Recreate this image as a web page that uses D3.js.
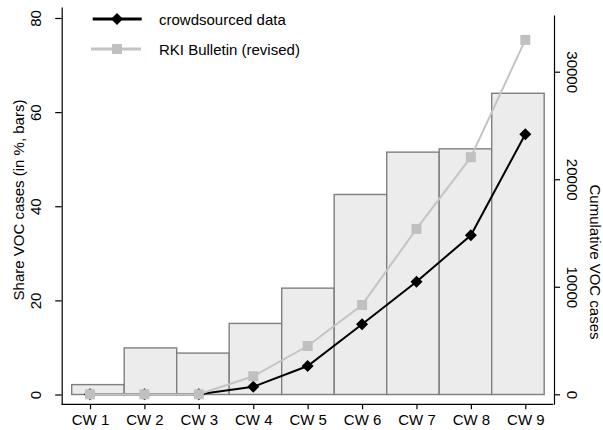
<!DOCTYPE html>
<html>
<head>
<meta charset="utf-8">
<script src="https://cdn.jsdelivr.net/npm/d3@7"></script>
<style>
  body { margin: 0; background: #fff; }
  svg { font-family: "Liberation Sans", Arial, sans-serif; }
</style>
</head>
<body>
<div id="chart"></div>
<script>
// data
var weeks = ["CW 1", "CW 2", "CW 3", "CW 4", "CW 5", "CW 6", "CW 7", "CW 8", "CW 9"];
var shareVOC = [2.1, 9.9, 8.8, 15.1, 22.6, 42.5, 51.5, 52.2, 64.0];
var crowdsourced = [0, 0, 0, 700, 2630, 6510, 10470, 14790, 24190];
var rkiBulletin = [0, 0, 0, 1680, 4490, 8310, 15380, 22050, 32960];
var leftTicks = [0, 20, 40, 60, 80];
var rightTicks = [0, 10000, 20000, 30000];

function main() {
    var width = 603, height = 430;

    var svg = d3.select("#chart").append("svg")
        .attr("width", width)
        .attr("height", height);

    // scales
    var xPoint = d3.scalePoint().domain(weeks).range([90, 525.3]);
    var xBar = d3.scaleBand().domain(weeks).range([71.7, 544.2]).padding(0);
    var yLeft = d3.scaleLinear().domain([0, 80]).range([394.5, 18]);
    var yRight = d3.scaleLinear().domain([0, 30000]).range([394.3, 71.7]);

    var axisY = 404.3, leftX = 61.7, rightX = 554;

    // bars
    svg.append("g")
        .selectAll("rect")
        .data(shareVOC)
        .join("rect")
        .attr("x", (d, i) => xBar(weeks[i]))
        .attr("width", xBar.bandwidth())
        .attr("y", d => yLeft(d))
        .attr("height", d => yLeft(0) - yLeft(d))
        .attr("fill", "#ececec")
        .attr("stroke", "#7f7f7f")
        .attr("stroke-width", 1.4);

    // lines
    var lineC = d3.line()
        .x((d, i) => xPoint(weeks[i]))
        .y(d => yRight(d));

    svg.append("path")
        .datum(crowdsourced)
        .attr("d", lineC)
        .attr("fill", "none")
        .attr("stroke", "#000")
        .attr("stroke-width", 2);

    svg.append("g")
        .selectAll("path")
        .data(crowdsourced)
        .join("path")
        .attr("d", d3.symbol(d3.symbolSquare, 72))
        .attr("transform", (d, i) => "translate(" + xPoint(weeks[i]) + "," + yRight(d) + ") rotate(45)")
        .attr("fill", "#000");

    svg.append("path")
        .datum(rkiBulletin)
        .attr("d", lineC)
        .attr("fill", "none")
        .attr("stroke", "#c4c4c4")
        .attr("stroke-width", 2);

    svg.append("g")
        .selectAll("rect")
        .data(rkiBulletin)
        .join("rect")
        .attr("x", (d, i) => xPoint(weeks[i]) - 5)
        .attr("y", d => yRight(d) - 5)
        .attr("width", 10)
        .attr("height", 10)
        .attr("fill", "#c0c0c0");

    // bottom axis
    var gx = svg.append("g")
        .attr("transform", "translate(0," + axisY + ")")
        .call(d3.axisBottom(xPoint).tickSize(5).tickSizeOuter(0));
    gx.select(".domain").remove();
    gx.append("line")
        .attr("x1", leftX).attr("x2", 553.3)
        .attr("stroke", "#000").attr("stroke-width", 1.2);
    gx.selectAll(".tick line").attr("stroke", "#000").attr("stroke-width", 1.2);
    gx.selectAll(".tick text")
        .attr("y", 20.7).attr("dy", 0)
        .attr("font-size", "15px")
        .attr("font-family", "Liberation Sans, Arial, sans-serif")
        .attr("fill", "#000");

    // left axis
    var yLeftAxisScale = yLeft.copy().domain([yLeft.invert(axisY), yLeft.invert(7)]).range([axisY, 7]);
    var gl = svg.append("g")
        .attr("transform", "translate(" + leftX + ",0)")
        .call(d3.axisLeft(yLeftAxisScale).tickValues(leftTicks).tickFormat(d3.format("d")).tickSize(6.5).tickSizeOuter(0));
    gl.selectAll(".domain, .tick line").attr("stroke", "#000").attr("stroke-width", 1.2);
    gl.selectAll(".tick text")
        .attr("x", 0).attr("dy", 0)
        .attr("text-anchor", "middle")
        .attr("transform", "translate(-20.5,0) rotate(-90)")
        .attr("font-size", "15px")
        .attr("font-family", "Liberation Sans, Arial, sans-serif")
        .attr("fill", "#000");

    // right axis
    var yRightAxisScale = yRight.copy().domain([yRight.invert(axisY), yRight.invert(15)]).range([axisY, 15]);
    var gr = svg.append("g")
        .attr("transform", "translate(" + rightX + ",0)")
        .call(d3.axisRight(yRightAxisScale).tickValues(rightTicks).tickFormat(d3.format("d")).tickSize(6).tickSizeOuter(0));
    gr.selectAll(".domain, .tick line").attr("stroke", "#000").attr("stroke-width", 1.2);
    gr.selectAll(".tick text")
        .attr("x", 0).attr("dy", 0)
        .attr("text-anchor", "middle")
        .attr("transform", "translate(12.5,0) rotate(90)")
        .attr("font-size", "15px")
        .attr("font-family", "Liberation Sans, Arial, sans-serif")
        .attr("fill", "#000");

    // axis titles
    svg.append("text")
        .attr("transform", "translate(23.5,200) rotate(-90)")
        .attr("text-anchor", "middle")
        .attr("font-size", "15px")
        .text("Share VOC cases (in %, bars)");

    svg.append("text")
        .attr("transform", "translate(589.5,262) rotate(90)")
        .attr("text-anchor", "middle")
        .attr("font-size", "15px")
        .text("Cumulative VOC cases");

    // legend
    var legend = svg.append("g");
    legend.append("line")
        .attr("x1", 92.7).attr("x2", 141.7).attr("y1", 19).attr("y2", 19)
        .attr("stroke", "#000").attr("stroke-width", 3);
    legend.append("path")
        .attr("d", d3.symbol(d3.symbolSquare, 72))
        .attr("transform", "translate(117,19) rotate(45)")
        .attr("fill", "#000");
    legend.append("text")
        .attr("x", 159).attr("y", 24.5)
        .attr("font-size", "15px")
        .text("crowdsourced data");

    legend.append("line")
        .attr("x1", 91).attr("x2", 141).attr("y1", 49).attr("y2", 49)
        .attr("stroke", "#c4c4c4").attr("stroke-width", 3);
    legend.append("rect")
        .attr("x", 112).attr("y", 44).attr("width", 10).attr("height", 10)
        .attr("fill", "#c0c0c0");
    legend.append("text")
        .attr("x", 159).attr("y", 54.5)
        .attr("font-size", "15px")
        .text("RKI Bulletin (revised)");
}

main()
</script>
</body>
</html>
